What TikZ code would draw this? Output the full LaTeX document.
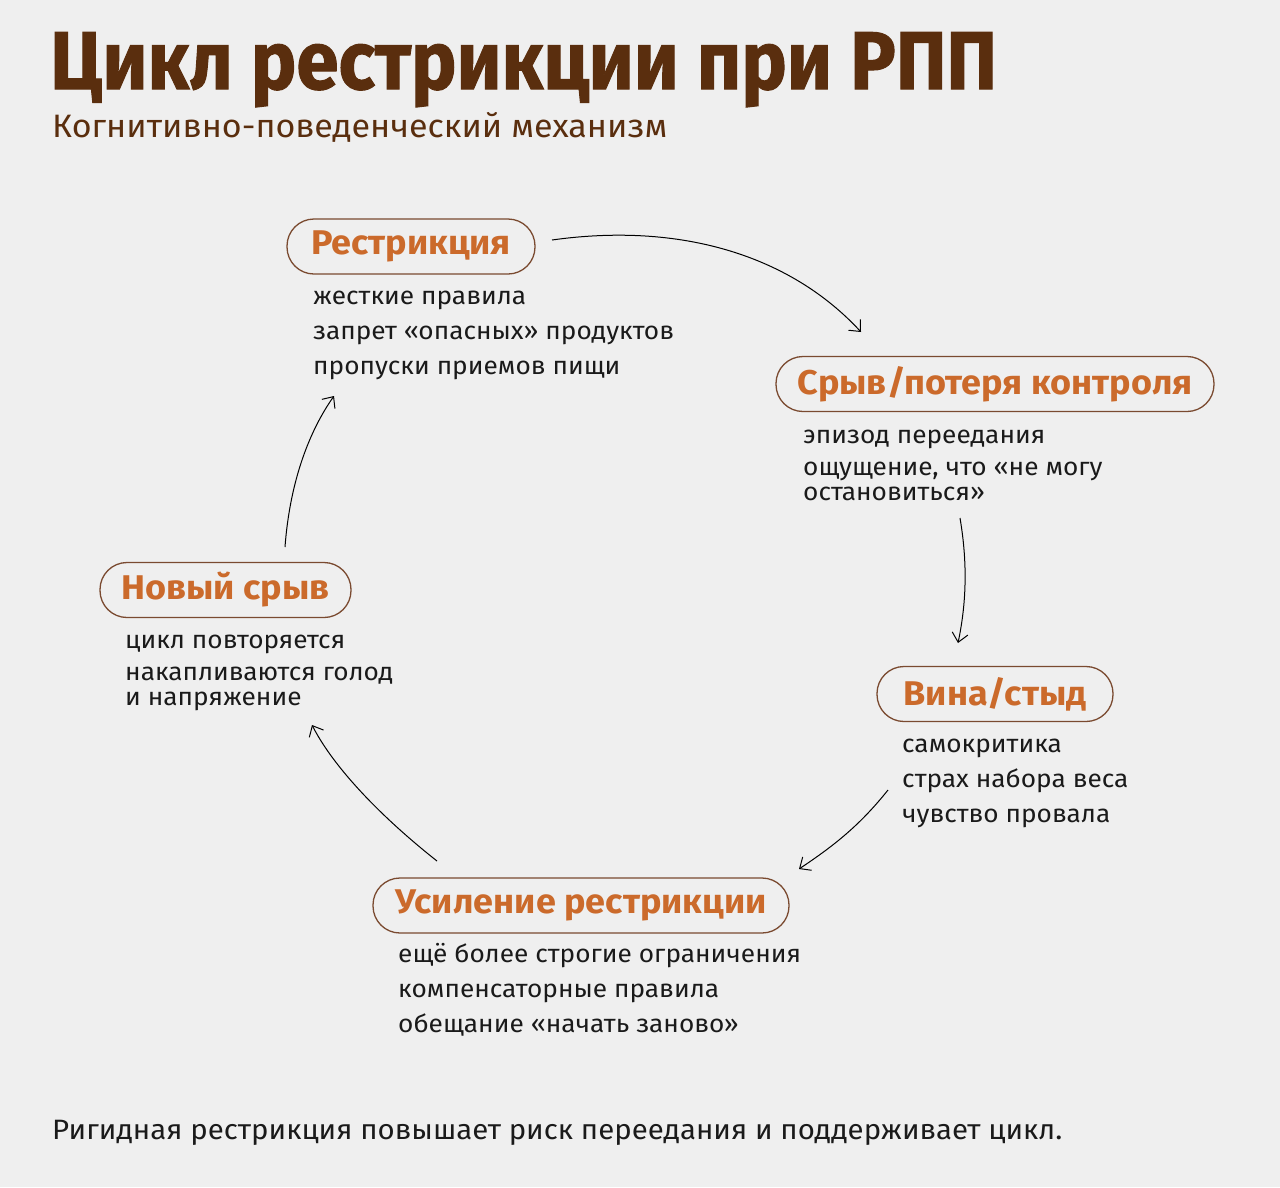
\documentclass[tikz,border=0pt]{standalone}
\usepackage{fontspec}
\setmainfont{Fira Sans}
\newfontfamily\bodyf[FakeStretch=1.05]{Fira Sans}
\newfontfamily\titlef[FakeStretch=0.93,BoldFeatures={FakeBold=1.2}]{Fira Sans}
\usetikzlibrary{arrows.meta}
\definecolor{bgc}{HTML}{EFEFEF}
\definecolor{titlec}{HTML}{5A2E0E}
\definecolor{orangec}{HTML}{CB6A2B}
\definecolor{pillc}{HTML}{7A4A30}
\definecolor{textc}{HTML}{1A1A1A}
\tikzset{
  pill/.style={draw=pillc, line width=1.3pt, rounded corners=27pt, minimum height=55pt,
    inner sep=0pt, text=orangec, font=\bodyf\fontsize{34.3}{36}\selectfont\bfseries},
  item/.style={anchor=base west, inner sep=0pt, text=textc, font=\bodyf\fontsize{25}{26}\selectfont},
  conn/.style={draw=black, line width=1pt, -{Straight Barb[length=9pt,width=16pt,line width=1pt]}},
}
\begin{document}
\begin{tikzpicture}[x=1pt,y=-1pt]
\fill[bgc] (0,0) rectangle (1280,1187);
\useasboundingbox (0,0) rectangle (1280,1187);

\node[anchor=base west, inner sep=0pt, text=titlec, font=\titlef\fontsize{82}{84}\selectfont\bfseries] (title) at (50,89) {Цикл рестрикции при РПП};
\node[anchor=base west, inner sep=0pt, text=titlec, font=\bodyf\fontsize{32.4}{34}\selectfont] (sub) at (52,137) {Когнитивно-поведенческий механизм};

% pills
\node[pill, minimum width=248pt] (p1) at (411,246.5) {Рестрикция};
\node[pill, minimum width=438pt] (p2) at (995,384) {Срыв/потеря контроля};
\node[pill, minimum width=236pt] (p3) at (995,694) {Вина/стыд};
\node[pill, minimum width=416pt] (p4) at (581,905.5) {Усиление рестрикции};
\node[pill, minimum width=251pt] (p5) at (225.5,590) {Новый срыв};

% items
\node[item] (r1) at (313,304) {жесткие правила};
\node[item] (r2) at (313,339) {запрет «опасных» продуктов};
\node[item] (r3) at (313,374) {пропуски приемов пищи};

\node[item] (s1) at (803,443) {эпизод переедания};
\node[item] (s2) at (803,475) {ощущение, что «не могу};
\node[item] (s3) at (803,500) {остановиться»};

\node[item] (v1) at (902,752) {самокритика};
\node[item] (v2) at (902,787) {страх набора веса};
\node[item] (v3) at (902,822) {чувство провала};

\node[item] (u1) at (398,962) {ещё более строгие ограничения};
\node[item] (u2) at (398,997) {компенсаторные правила};
\node[item] (u3) at (398,1032) {обещание «начать заново»};

\node[item] (n1) at (125,648) {цикл повторяется};
\node[item] (n2) at (125,680) {накапливаются голод};
\node[item] (n3) at (125,705) {и напряжение};

\node[anchor=base west, inner sep=0pt, text=textc, font=\bodyf\fontsize{28}{29}\selectfont] (foot) at (52,1139) {Ригидная рестрикция повышает риск переедания и поддерживает цикл.};

% connector endpoints
\coordinate (a1s) at (552,240);
\coordinate (a1e) at (861,332);
\coordinate (a2s) at (960,518);
\coordinate (a2e) at (958,643);
\coordinate (a3s) at (888,790);
\coordinate (a3e) at (799,869);
\coordinate (a4s) at (437,861);
\coordinate (a4e) at (312,725);
\coordinate (a5s) at (285,547);
\coordinate (a5e) at (334,396);

\draw[conn] (a1s) .. controls (680,222) and (790,255) .. (a1e);
\draw[conn] (a2s) .. controls (968,565) and (966,605) .. (a2e);
\draw[conn] (a3s) .. controls (860,825) and (835,845) .. (a3e);
\draw[conn] (a4s) .. controls (385,820) and (335,770) .. (a4e);
\draw[conn] (a5s) .. controls (290,480) and (310,430) .. (a5e);
\end{tikzpicture}
\end{document}
